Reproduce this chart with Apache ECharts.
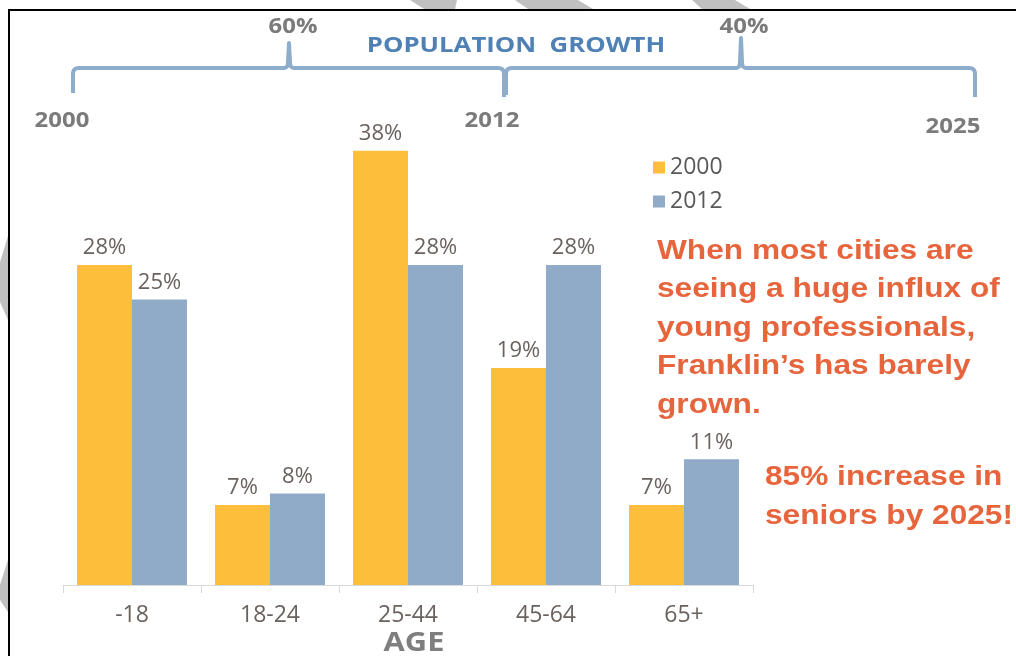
<!DOCTYPE html>
<html>
<head>
<meta charset="utf-8">
<script src="https://cdn.jsdelivr.net/npm/echarts@6/dist/echarts.min.js"></script>
<style>
html,body{margin:0;padding:0;background:#fff;}
#chart{width:1016px;height:656px;}
</style>
</head>
<body>
<div id="chart"></div>
<script>
const categories = ['-18', '18-24', '25-44', '45-64', '65+'];
const seriesNames = ['2000', '2012'];
const values2000 = [28, 7, 38, 19, 7];
const values2012 = [25, 8, 28, 28, 11];
const growthLabels = ['60%', '40%'];
const yearLabels = ['2000', '2012', '2025'];
const headline = 'POPULATION  GROWTH';
const axisTitle = 'AGE';
const noteMain = ['When most cities are', 'seeing a huge influx of', 'young professionals,', 'Franklin\u2019s has barely', 'grown.'];
const noteSeniors = ['85% increase in', 'seniors by 2025!'];

const YELLOW = '#FDBF3B', BLUE = '#8FABC7', LABEL = '#6a625e', GREYB = '#7b7b7b', ORANGE = '#E7653C', BRACE = '#8EACCB';
const SX = 1.14;

function t(x, y, text, font, fill, sx) {
  return {
    type: 'text', x: x, y: y, scaleX: sx || SX, z: 10,
    style: { x: 0, y: 0, text: text, font: font, fill: fill, align: 'center', verticalAlign: 'middle' }
  };
}

// quadratic curve sampler for decorative brace shapes
function qb(p0, p1, p2, n) {
  const out = [];
  for (let i = 1; i <= n; i++) {
    const s = i / n, a = (1 - s) * (1 - s), b = 2 * (1 - s) * s, c = s * s;
    out.push([a * p0[0] + b * p1[0] + c * p2[0], a * p0[1] + b * p1[1] + c * p2[1]]);
  }
  return out;
}
function brace(xl, xr, xm, yl, yr, yLine, yTip) {
  const r = 6;
  let pts = [[xl, yl], [xl, yLine + r]];
  pts = pts.concat(qb([xl, yLine + r], [xl, yLine], [xl + r, yLine], 5));
  pts.push([xm - 5, yLine]);
  pts = pts.concat(qb([xm - 5, yLine], [xm - 1, yLine], [xm - 1, yLine - 6], 4));
  pts.push([xm, yTip]);
  pts.push([xm + 1, yLine - 6]);
  pts = pts.concat(qb([xm + 1, yLine - 6], [xm + 1, yLine], [xm + 5, yLine], 4));
  pts.push([xr - r, yLine]);
  pts = pts.concat(qb([xr - r, yLine], [xr, yLine], [xr, yLine + r], 5));
  pts.push([xr, yr]);
  return pts;
}

const chart = echarts.init(document.getElementById('chart'));
const graphics = [
  // decorative frame
  { type: 'rect', shape: { x: 8, y: 9, width: 1010, height: 2 }, style: { fill: '#000' }, z: 20 },
  { type: 'rect', shape: { x: 8, y: 9, width: 2, height: 650 }, style: { fill: '#000' }, z: 20 },
  // gray stripes outside frame
  { type: 'polygon', shape: { points: [[410, 0], [457, 0], [455, 9], [424, 9]] }, style: { fill: '#c0c0c0' }, z: 5 },
  { type: 'polygon', shape: { points: [[515, 0], [578, 0], [593, 9], [528, 9]] }, style: { fill: '#c0c0c0' }, z: 5 },
  { type: 'polygon', shape: { points: [[692, 0], [735, 0], [750, 9], [702, 9]] }, style: { fill: '#c0c0c0' }, z: 5 },
  { type: 'polygon', shape: { points: [[0, 262], [8, 236], [8, 320], [0, 302]] }, style: { fill: '#c0c0c0' }, z: 5 },
  { type: 'polygon', shape: { points: [[0, 585], [8, 560], [8, 612], [0, 600]] }, style: { fill: '#c0c0c0' }, z: 5 },
  // braces
  { type: 'polyline', z: 5, shape: { points: brace(73, 504, 289, 93, 97, 68, 43) },
    style: { stroke: BRACE, lineWidth: 4, fill: null, lineJoin: 'round' } },
  { type: 'polyline', z: 5, shape: { points: brace(506, 975, 741, 95, 97, 68, 38) },
    style: { stroke: BRACE, lineWidth: 4, fill: null, lineJoin: 'round' } },
  // top labels
  t(293, 27, growthLabels[0], 'bold 21px "Open Sans"', GREYB),
  t(744, 27, growthLabels[1], 'bold 21px "Open Sans"', GREYB),
  t(516, 46, headline, 'bold 22px "Open Sans"', '#4F81B5', 1.17),
  t(62, 121, yearLabels[0], 'bold 21px "Open Sans"', GREYB),
  t(492, 121, yearLabels[1], 'bold 21px "Open Sans"', GREYB),
  t(953, 127, yearLabels[2], 'bold 21px "Open Sans"', GREYB),
  t(414, 643, axisTitle, 'bold 27px "Open Sans"', '#7f7f7f'),
  // notes
  { type: 'text', x: 657, y: 232, scaleX: 1.13, z: 10,
    style: { x: 0, y: 0, text: noteMain.join('\n'), font: 'bold 28px "Liberation Sans"', fill: ORANGE, lineHeight: 38.5, align: 'left', verticalAlign: 'top' } },
  { type: 'text', x: 765, y: 458.5, scaleX: 1.13, z: 10,
    style: { x: 0, y: 0, text: noteSeniors.join('\n'), font: 'bold 28px "Liberation Sans"', fill: ORANGE, lineHeight: 38.5, align: 'left', verticalAlign: 'top' } }
];

const labelCfg = { show: true, position: 'top', distance: 6, formatter: '{c}%', color: LABEL, fontSize: 22, fontFamily: 'Open Sans' };

chart.setOption({
  animation: false,
  backgroundColor: '#fff',
  grid: { left: 63, right: 263, top: 128, bottom: 71, containLabel: false },
  legend: {
    data: seriesNames, orient: 'vertical', left: 648, top: 151,
    itemWidth: 12, itemHeight: 12, itemGap: 11, icon: 'rect',
    textStyle: { color: '#595959', fontSize: 23, fontFamily: 'Open Sans' }
  },
  xAxis: {
    type: 'category', data: categories,
    axisLine: { lineStyle: { color: '#d9d9d9', width: 1 } },
    axisTick: { show: true, length: 8, lineStyle: { color: '#d9d9d9' } },
    axisLabel: { color: LABEL, fontSize: 23, fontFamily: 'Open Sans', margin: 19 }
  },
  yAxis: { type: 'value', min: 0, max: 40, show: false, splitLine: { show: false } },
  series: [
    { name: seriesNames[0], type: 'bar', data: values2000, barWidth: 55, barGap: '0%', itemStyle: { color: YELLOW }, label: labelCfg },
    { name: seriesNames[1], type: 'bar', data: values2012, barWidth: 55, barGap: '0%', itemStyle: { color: BLUE }, label: labelCfg }
  ],
  graphic: { elements: graphics }
});
</script>
</body>
</html>
